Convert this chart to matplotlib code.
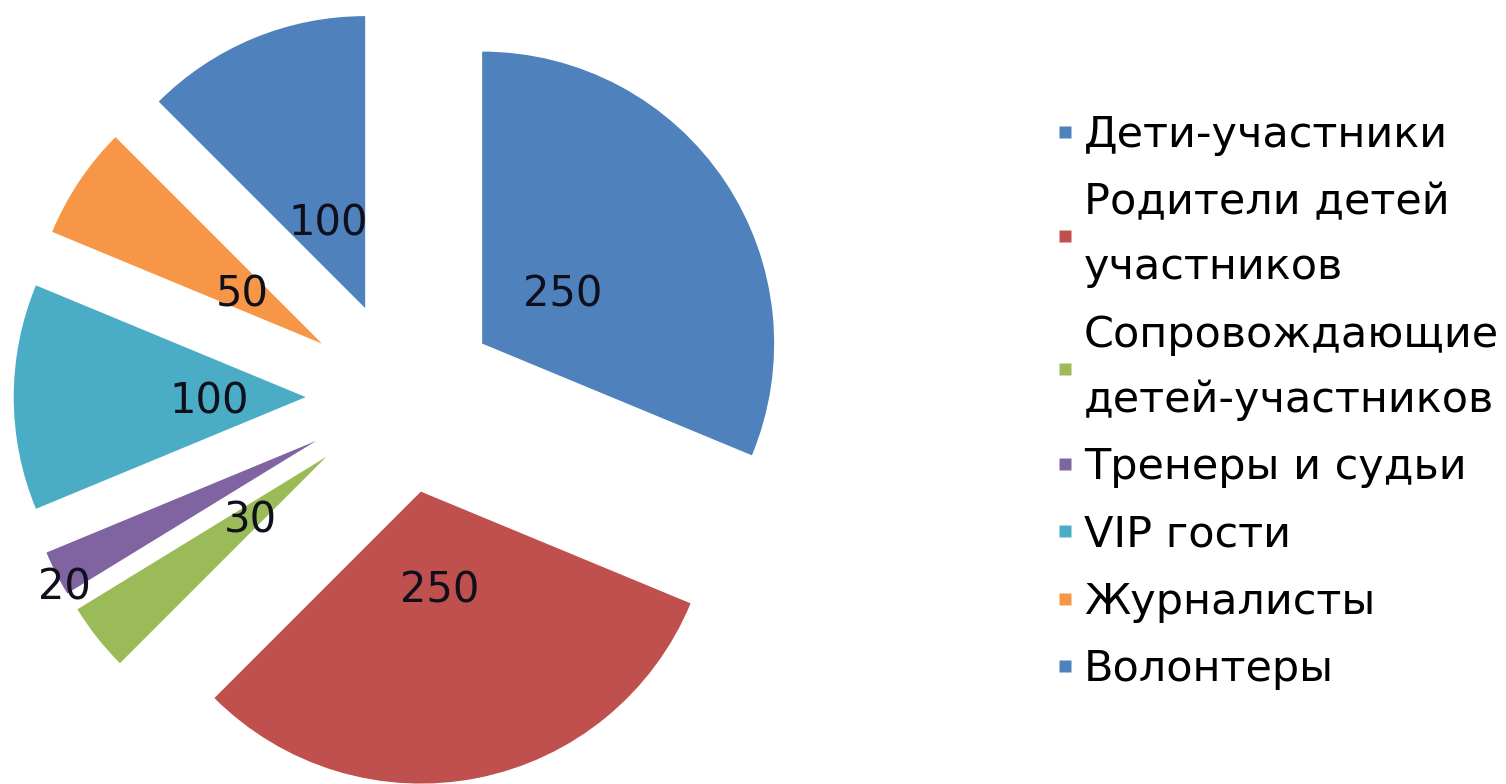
import numpy as np
import matplotlib
matplotlib.use("Agg")
import matplotlib.pyplot as plt
from matplotlib.lines import Line2D

categories = ["Дети-участники", "Родители детей\nучастников",
              "Сопровождающие\nдетей-участников", "Тренеры и судьи",
              "VIP гости", "Журналисты", "Волонтеры"]
values = [250, 250, 30, 20, 100, 50, 100]
colors = ["#4F81BD", "#C0504D", "#9BBB59", "#8064A2",
          "#4BACC6", "#F79646", "#4F81BD"]

plt.rcParams['font.family'] = ['DejaVu Sans']
total = sum(values)

fig = plt.figure(figsize=(15.06, 7.84), dpi=100)
ax = fig.add_axes([0, 0, 1, 1])

wedges, texts, autotexts = ax.pie(
    values, colors=colors, explode=[0.33] * len(values),
    startangle=90, counterclock=False, radius=1,
    autopct=lambda p: "%d" % round(p * total / 100.0),
    pctdistance=0.33,
    textprops=dict(fontsize=30, color="#10101c"))
for t in autotexts:
    t.set_va('center_baseline')

# small slice label sits near the outer edge
w = wedges[3]
ang = np.deg2rad((w.theta1 + w.theta2) / 2 + 2.5)
cx, cy = w.center
autotexts[3].set_position((cx + 0.99 * np.cos(ang), cy + 0.99 * np.sin(ang)))

ax.set_xlim(-1.377, 3.781)
ax.set_ylim(-1.325, 1.360)
ax.set_aspect('equal')
ax.axis('off')

handles = [Line2D([], [], linestyle='none', marker='s', markersize=8,
                  markerfacecolor=c, markeredgecolor='none') for c in colors]
leg = ax.legend(handles, categories, loc='upper left',
                bbox_to_anchor=(0.7035, 0.855), bbox_transform=fig.transFigure,
                frameon=False, fontsize=31, handlelength=0.27,
                handletextpad=0.3, labelspacing=0.59,
                borderpad=0, borderaxespad=0)
for t in leg.get_texts():
    t.set_linespacing(1.70)

fig.savefig("out.png", dpi=100)
